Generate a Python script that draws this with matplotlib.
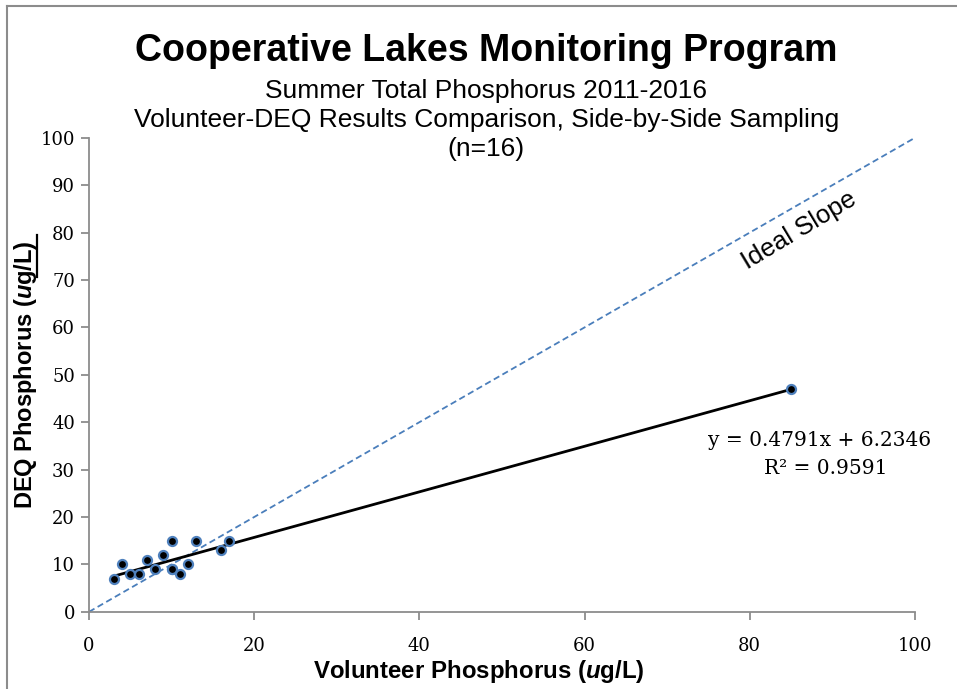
#volunteer vs DEQ phosphorus scatter with trend line

import numpy as np
import matplotlib
matplotlib.use('Agg')
from matplotlib import pyplot as plt
from matplotlib.lines import Line2D

volunteer = [3, 4, 5, 6, 7, 8, 9, 10, 10, 10, 11, 12, 13, 16, 17, 85]
deq = [7, 10, 8, 8, 11, 9, 12, 15, 9, 9, 8, 10, 15, 13, 15, 47]
ideal = [0, 100]
ticks = [0, 20, 40, 60, 80, 100]
yticks = list(range(0, 101, 10))

serif = 'DejaVu Serif'
sans = 'Liberation Sans'
gray = '#8c8c8c'

matplotlib.rcParams['mathtext.fontset'] = 'custom'
matplotlib.rcParams['mathtext.bfit'] = 'Liberation Sans:bold:italic'

fig = plt.figure(figsize=(9.57, 6.89), dpi=100)
ax = fig.add_axes([0.093, 0.112, 0.863, 0.688])

#ideal 1:1 line
ax.plot(ideal, ideal, color='#4a7ebb', lw=1.3, ls=(0, (3.5, 2)), zorder=1)

#linear trend from data
x = np.array(volunteer, dtype=float)
y = np.array(deq, dtype=float)
m, b = np.polyfit(x, y, 1)
xs = np.array([x.min(), x.max()])
ax.plot(xs, m*xs + b, color='black', lw=2, zorder=2)

ax.plot(x, y, 'o', ms=6.5, mfc='black', mec='#4f81bd', mew=1.6, ls='none', zorder=3)

ax.set_xlim(0, 100)
ax.set_ylim(0, 100)
ax.set_xticks(ticks)
ax.set_yticks(yticks)
for s in ['top', 'right']:
	ax.spines[s].set_visible(False)
for s in ['left', 'bottom']:
	ax.spines[s].set_color(gray)
	ax.spines[s].set_linewidth(1.3)
ax.tick_params(direction='out', length=6, width=1.3, color=gray, labelsize=13, pad=4)
ax.tick_params(axis='x', pad=12)
for lab in ax.get_xticklabels() + ax.get_yticklabels():
	lab.set_fontfamily(serif)

ax.set_xlabel(r'Volunteer Phosphorus ($\mathbfit{u}$g/L)', fontsize=17.3, fontweight='bold', family=sans)
ax.set_ylabel(r'DEQ Phosphorus ($\mathbfit{u}$g/L)', fontsize=17, fontweight='bold', family=sans)
ax.xaxis.set_label_coords(0.472, -0.097)
ax.yaxis.set_label_coords(-0.061, 0.5)
#underline under ug/L on the y label
ax.add_line(Line2D([-0.0625, -0.0625], [0.707, 0.795], color='black', lw=1.6, transform=ax.transAxes, clip_on=False))

ax.text(86, 80.5, 'Ideal Slope', rotation=31, fontsize=18.5, family=sans, ha='center', va='center')
ax.text(88.5, 36.2, 'y = 0.4791x + 6.2346', fontsize=14.5, family=serif, ha='center', va='center')
ax.text(89.2, 30.2, 'R² = 0.9591', fontsize=14.5, family=serif, ha='center', va='center')

fig.text(0.508, 0.926, 'Cooperative Lakes Monitoring Program', fontsize=27, fontweight='bold', family=sans, ha='center', va='center')
fig.text(0.508, 0.868, 'Summer Total Phosphorus 2011-2016', fontsize=19, family=sans, ha='center', va='center')
fig.text(0.508, 0.826, 'Volunteer-DEQ Results Comparison, Side-by-Side Sampling', fontsize=19, family=sans, ha='center', va='center')
fig.text(0.508, 0.784, '(n=16)', fontsize=19, family=sans, ha='center', va='center')

#chart frame (top and left only)
fig.add_artist(Line2D([0.007, 1.0], [0.991, 0.991], color=gray, lw=1.5, transform=fig.transFigure))
fig.add_artist(Line2D([0.007, 0.007], [0.0, 0.991], color=gray, lw=1.5, transform=fig.transFigure))

plt.savefig('out.png', dpi=100)
